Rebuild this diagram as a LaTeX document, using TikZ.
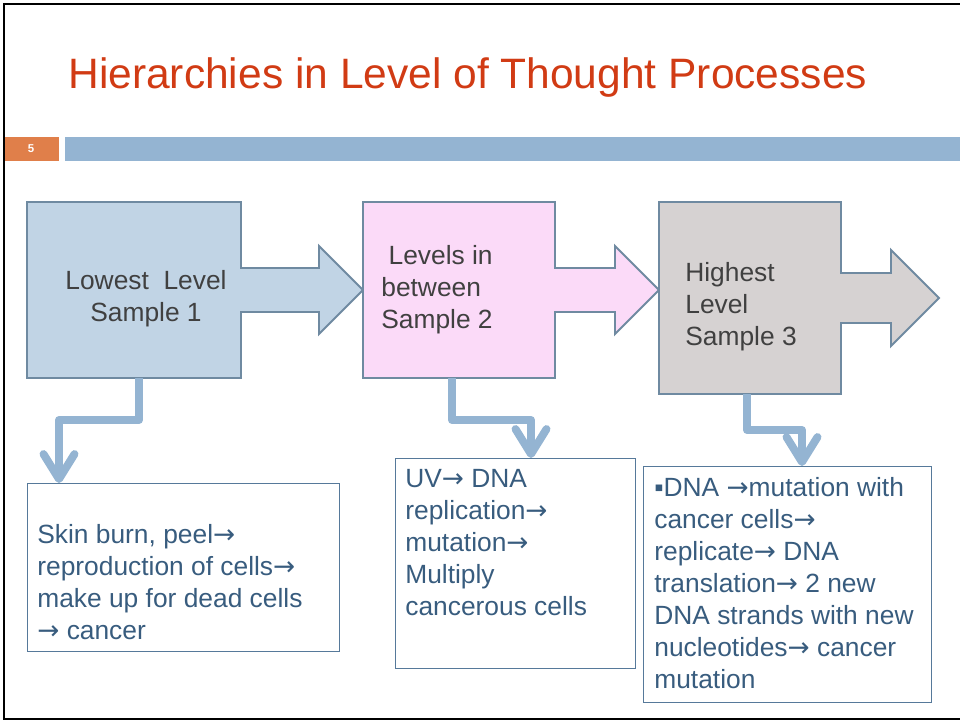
\documentclass[tikz,border=0pt]{standalone}
\usepackage{fontspec}
\setmainfont{Liberation Sans}
\newfontfamily\arrowfont{DejaVu Sans}
\usetikzlibrary{arrows.meta}
\definecolor{titlered}{HTML}{D13B14}
\definecolor{numorange}{HTML}{E07F4A}
\definecolor{barblue}{HTML}{94B4D2}
\definecolor{edgegray}{HTML}{6F8AA1}
\definecolor{lowblue}{HTML}{C1D4E5}
\definecolor{midpink}{HTML}{FBDAF8}
\definecolor{highgray}{HTML}{D6D2D2}
\definecolor{inkgray}{HTML}{404040}
\definecolor{inkblue}{HTML}{385C7E}
\definecolor{boxblue}{HTML}{56799A}
\newcommand{\rarr}{{\arrowfont →}}
\newcommand{\blockarrow}[9]{\draw[edgegray,line width=1.1pt,fill=#1] (#2,#3)--(#4,#3)--(#4,{#6-#8})--(#7,{#6-#8})--(#7,{#6-#9})--({#7+#9},#6)--(#7,{#6+#9})--(#7,{#6+#8})--(#4,{#6+#8})--(#4,#5)--(#2,#5)--cycle;}

\begin{document}
\begin{tikzpicture}[x=0.02cm,y=-0.02cm,
  body/.style={inner sep=0pt,font=\fontsize{15}{18.2}\selectfont},
  note/.style={draw=boxblue,line width=0.7pt,inner sep=0pt,anchor=north west},
  flow/.style={barblue,line width=4.5pt,line join=round,-{Straight Barb[length=0.5cm,width=0.62cm,round]}}]
\useasboundingbox (0,0) rectangle (960,721);
\draw[line width=1.4pt] (960,4) -- (4,4) -- (4,719) -- (960,719);
% title and bar
\node[anchor=base west,inner sep=0pt,text=titlered,font=\fontsize{24.2}{28}\selectfont] (title) at (68,88) {Hierarchies in Level of Thought Processes};
\fill[numorange] (5,137) rectangle (59,161);
\fill[barblue] (65,137) rectangle (960,161);
\node[text=white,font=\bfseries\fontsize{6.5}{8}\selectfont] (num) at (31,149) {5};
% levels
\blockarrow{lowblue}{27}{202}{241}{378}{290}{319}{22}{44}
\blockarrow{midpink}{363}{202}{555}{378}{290}{615}{22}{44}
\blockarrow{highgray}{659}{202}{841}{394}{298}{891}{25}{48}
\node[body,text=inkgray,align=center,anchor=north] (low) at (146,270) {Lowest~ Level\\Sample 1};
\node[body,text=inkgray,align=left,anchor=north west] (mid) at (381,245) {~Levels in\\between\\Sample 2};
\node[body,text=inkgray,align=left,anchor=north west] (high) at (685,262) {Highest\\Level\\Sample 3};
% samples
\node[note,minimum width=6.24cm,minimum height=3.36cm] (out1) at (27,483) {};
\node[note,minimum width=4.8cm,minimum height=4.2cm] (out2) at (395,458) {};
\node[note,minimum width=5.76cm,minimum height=4.72cm] (out3) at (643,466) {};
\node[body,text=inkblue,align=left,anchor=north west] (s1txt) at (37,524) {Skin burn, peel\rarr\\reproduction of cells\rarr\\make up for dead cells\\\rarr\ cancer};
\node[body,text=inkblue,align=left,anchor=north west] (s2txt) at (405,469) {UV\rarr\ DNA\\replication\rarr\\mutation\rarr\\Multiply\\cancerous cells};
\node[body,text=inkblue,align=left,anchor=north west] (s3txt) at (654,477) {▪DNA \rarr mutation with\\cancer cells\rarr\\replicate\rarr\ DNA\\translation\rarr\ 2 new\\DNA strands with new\\nucleotides\rarr\ cancer\\mutation};
% connectors
\coordinate (a1) at (139,378); \coordinate (k1) at (59,420);
\coordinate (a2) at (452,378); \coordinate (k2) at (531,420);
\coordinate (a3) at (747,394); \coordinate (k3) at (802,430);
\draw[flow] (a1) |- (k1) -- (k1 |- out1.north);
\draw[flow] (a2) |- (k2) -- (k2 |- out2.north);
\draw[flow] (a3) |- (k3) -- (k3 |- out3.north);
\end{tikzpicture}
\end{document}
